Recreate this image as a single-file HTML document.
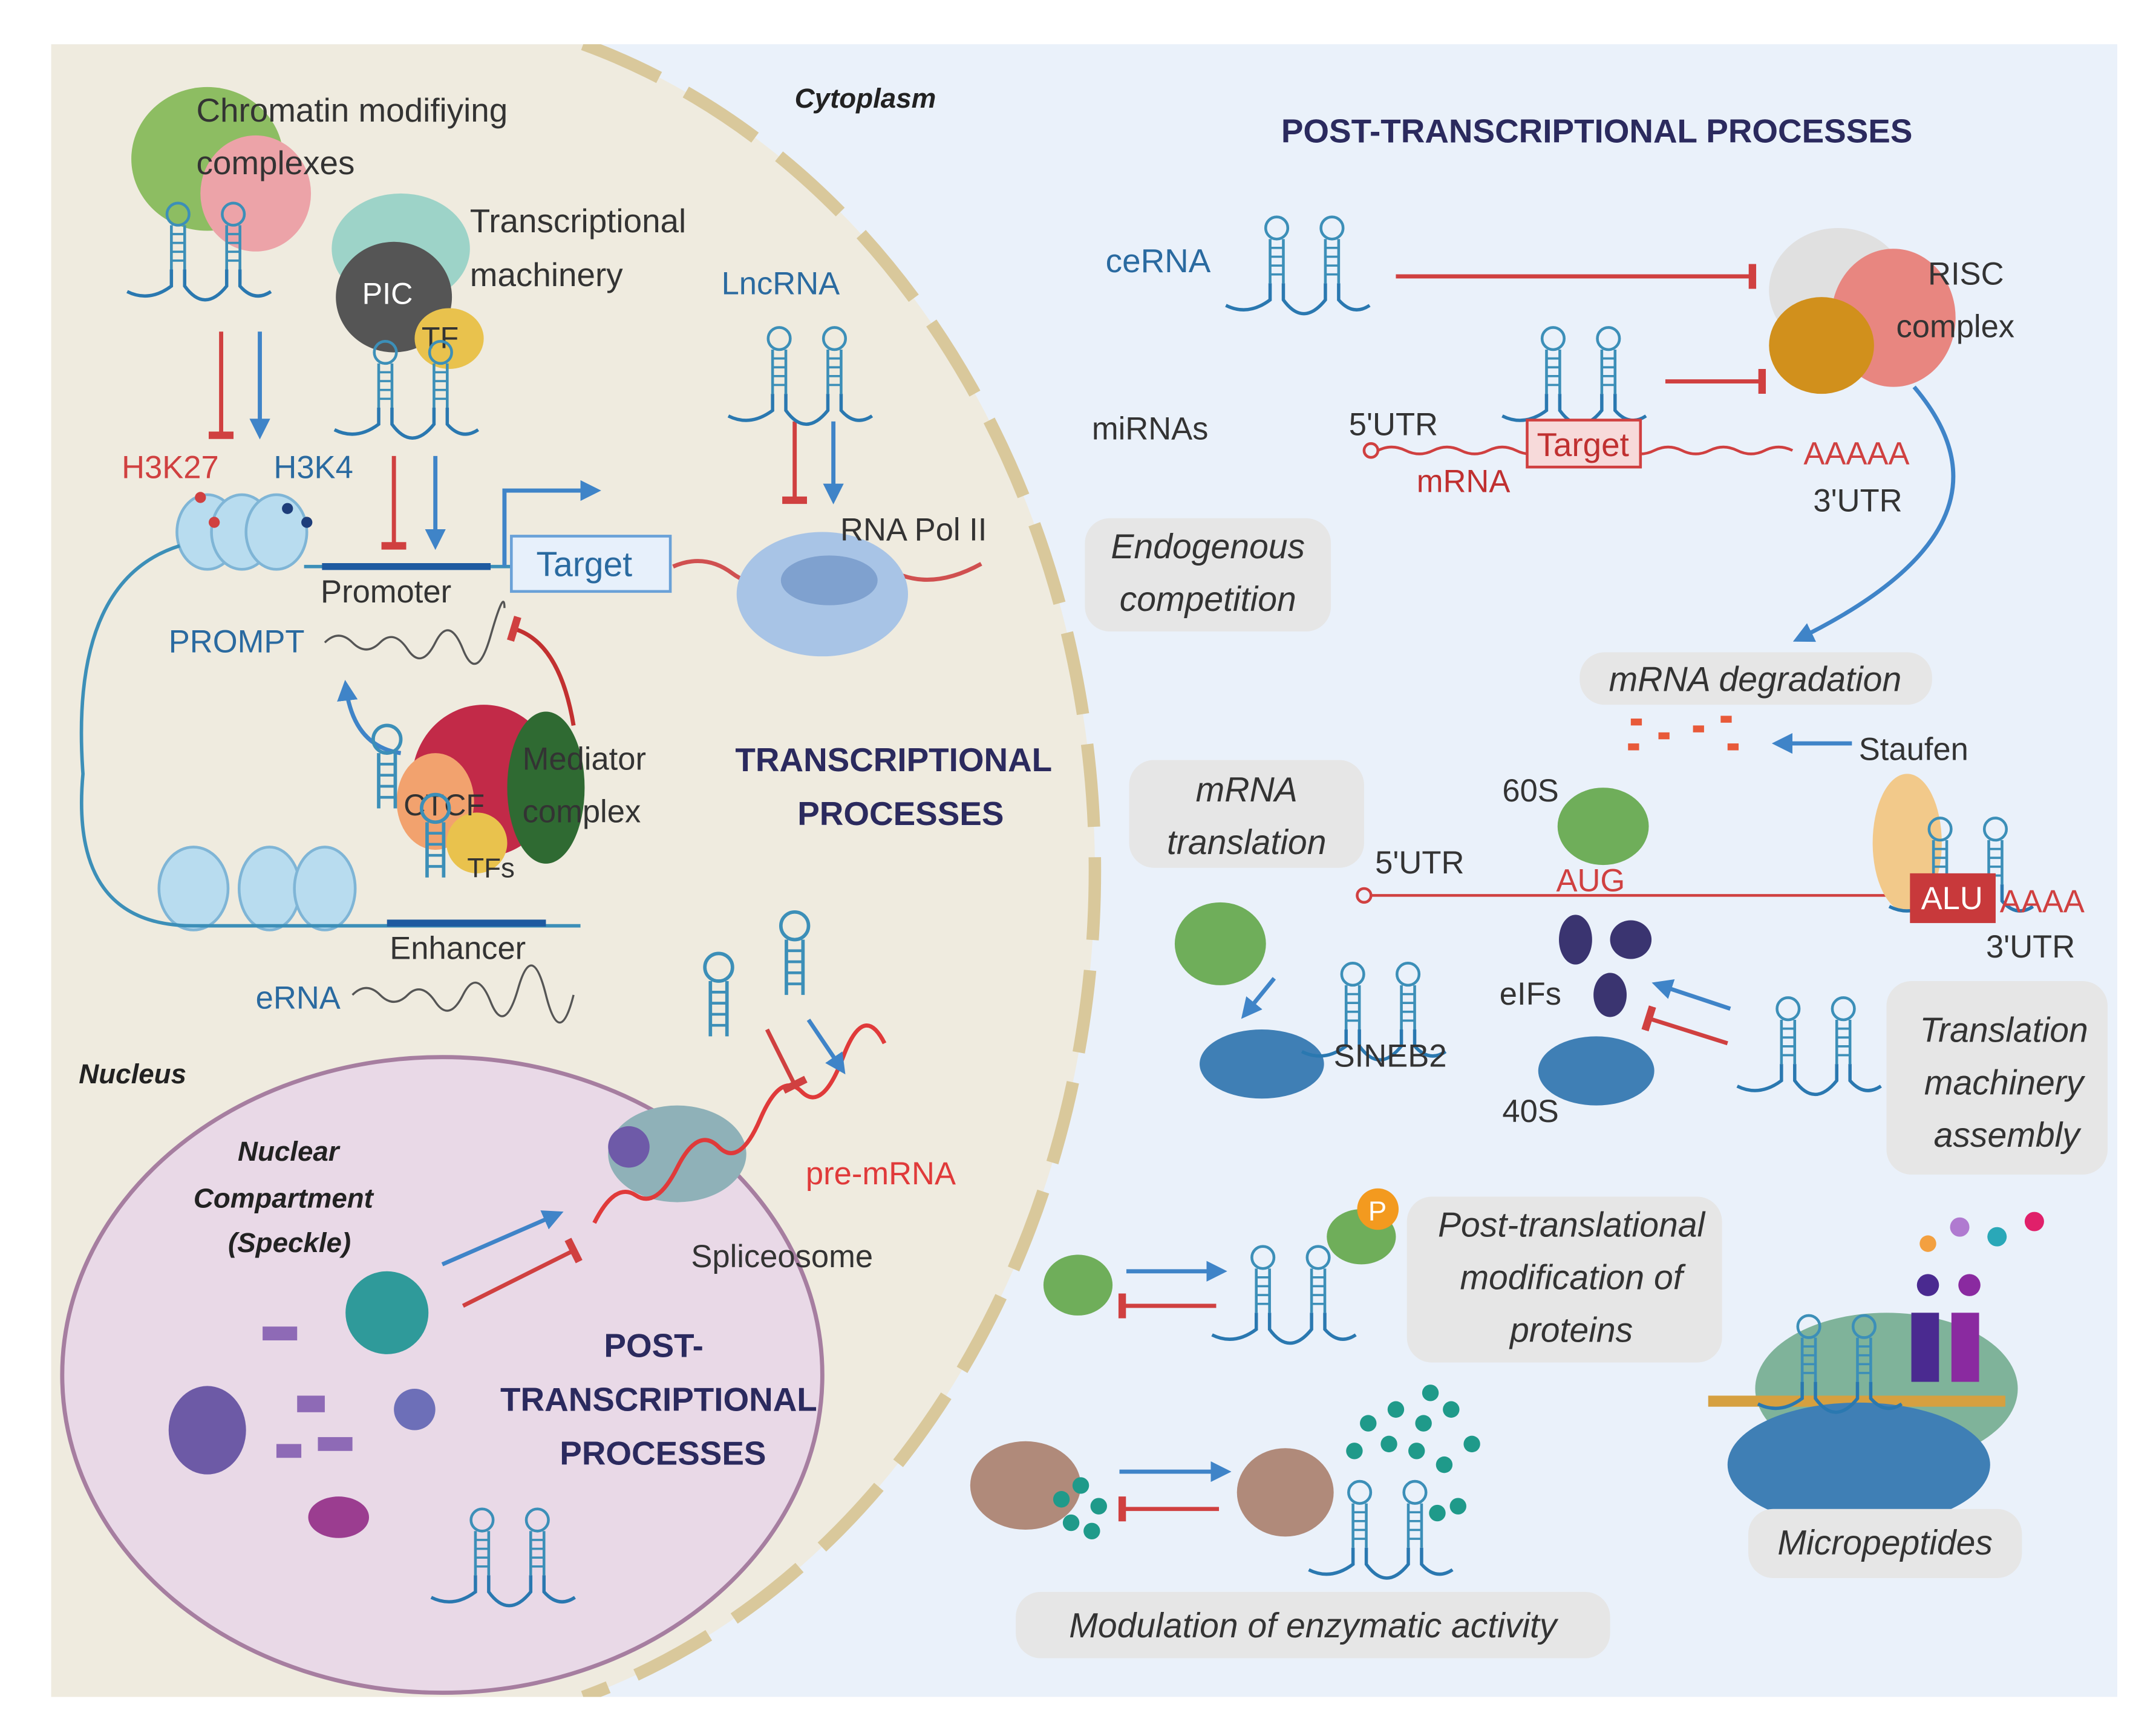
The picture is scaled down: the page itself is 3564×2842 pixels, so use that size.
<!DOCTYPE html>
<html><head><meta charset="utf-8"><style>
html,body{margin:0;padding:0;background:#fff;overflow:hidden;width:3564px;height:2842px}
svg{display:block}
text{font-family:"Liberation Sans",sans-serif}
</style></head><body>
<svg width="3564" height="2842" viewBox="0 0 1560 1244" xmlns="http://www.w3.org/2000/svg">
<defs>
<g id="hp">
 <path d="M-6,0 L-6,-40 M6,0 L6,-40" stroke="#3c8fb8" stroke-width="2.5" fill="none"/>
 <path d="M-6,-8h12M-6,-16h12M-6,-24h12M-6,-32h12" stroke="#3c8fb8" stroke-width="2"/>
 <circle cx="0" cy="-50" r="10" fill="none" stroke="#3c8fb8" stroke-width="2.5"/>
</g>
<g id="rna2s">
 <path d="M-60,20 Q-40,30 -20,15 L-20,0 M-8,0 L-8,15 Q10,40 30,15 L30,0 M42,0 L42,15 Q55,30 70,20" stroke="#2a78b0" stroke-width="3" fill="none"/>
 <use href="#hp" x="-14" y="0"/><use href="#hp" x="36" y="0"/>
</g>
<g id="rna2"><use href="#rna2s" transform="scale(0.8)"/></g>
<marker id="ab" viewBox="0 0 10 10" refX="8" refY="5" markerWidth="5" markerHeight="5" orient="auto"><path d="M0,0L10,5L0,10z" fill="#3f84c8"/></marker>
<marker id="tr" viewBox="0 0 10 10" refX="5" refY="5" markerWidth="6" markerHeight="6" orient="auto"><path d="M5,0V10" stroke="#d04040" stroke-width="3"/></marker>
<clipPath id="pan"><rect x="37" y="32" width="1495" height="1196"/></clipPath>
</defs>
<rect x="37" y="32" width="1495" height="1196" fill="#eaf1fa"/>
<g clip-path="url(#pan)">
<path d="M37,32 H422 A522 625 0 0 1 422 1228 H37 Z" fill="#efebdf"/>
<path d="M422,32 A522 625 0 0 1 422 1228" fill="none" stroke="#d9c89b" stroke-width="9" stroke-dasharray="60,22"/>
<ellipse cx="320" cy="995" rx="275" ry="230" fill="#e9d9e7" stroke="#a67ea0" stroke-width="3"/>
</g>

<ellipse cx="150" cy="115" rx="55" ry="52" fill="#8dbd62"/>
<ellipse cx="185" cy="140" rx="40" ry="42" fill="#eca3a8"/>
<use href="#rna2" x="140" y="195"/>
<text x="142" y="88" font-size="24" fill="#333">Chromatin modifiying</text>
<text x="142" y="126" font-size="24" fill="#333">complexes</text>
<ellipse cx="290" cy="180" rx="50" ry="40" fill="#9dd3c8"/>
<ellipse cx="285" cy="215" rx="42" ry="40" fill="#555"/>
<ellipse cx="325" cy="245" rx="25" ry="22" fill="#e9c24d"/>
<text x="262" y="220" font-size="22" fill="#fff">PIC</text>
<text x="305" y="252" font-size="22" fill="#333">TF</text>
<use href="#rna2" x="290" y="295"/>
<text x="340" y="168" font-size="24" fill="#333">Transcriptional</text>
<text x="340" y="207" font-size="24" fill="#333">machinery</text>
<path d="M160,240V315" stroke="#d04040" stroke-width="3" marker-end="url(#tr)"/>
<path d="M188,240V315" stroke="#3f84c8" stroke-width="3" marker-end="url(#ab)"/>
<path d="M285,330V395" stroke="#d04040" stroke-width="3" marker-end="url(#tr)"/>
<path d="M315,330V395" stroke="#3f84c8" stroke-width="3" marker-end="url(#ab)"/>
<path d="M575,305V362" stroke="#d04040" stroke-width="3" marker-end="url(#tr)"/>
<path d="M603,305V362" stroke="#3f84c8" stroke-width="3" marker-end="url(#ab)"/>
<text x="88" y="346" font-size="23" fill="#d04040">H3K27</text>
<text x="198" y="346" font-size="23" fill="#2a6aa0">H3K4</text>
<g fill="#b8dcef" stroke="#7fb5d6" stroke-width="2">
<ellipse cx="150" cy="385" rx="22" ry="27"/><ellipse cx="175" cy="385" rx="22" ry="27"/><ellipse cx="200" cy="385" rx="22" ry="27"/>
<ellipse cx="140" cy="643" rx="25" ry="30"/><ellipse cx="195" cy="643" rx="22" ry="30"/><ellipse cx="235" cy="643" rx="22" ry="30"/>
</g>
<circle cx="145" cy="360" r="4" fill="#d04040"/><circle cx="155" cy="378" r="4" fill="#d04040"/><circle cx="208" cy="368" r="4" fill="#1d3d7a"/><circle cx="222" cy="378" r="4" fill="#1d3d7a"/>
<path d="M130,395 Q50,420 60,560 Q50,670 140,670 L420,670" stroke="#3c8fb8" stroke-width="2.5" fill="none"/>
<path d="M220,410 L470,410" stroke="#3c8fb8" stroke-width="2.5"/>
<path d="M233,410H355" stroke="#1e5aa0" stroke-width="5"/>
<path d="M280,668H395" stroke="#1e5aa0" stroke-width="5"/>
<path d="M365,410V355H432" stroke="#3f84c8" stroke-width="3" fill="none" marker-end="url(#ab)"/>
<rect x="370" y="388" width="115" height="40" fill="#e7f0fb" stroke="#6aa1d8" stroke-width="2"/>
<text x="388" y="417" font-size="25" fill="#2a6aa0">Target</text>
<path d="M487,410 Q510,400 530,415 T580,410 T640,410 T710,408" stroke="#d05050" stroke-width="3" fill="none"/>
<text x="232" y="436" font-size="23" fill="#333">Promoter</text>
<text x="122" y="472" font-size="23" fill="#2a6aa0">PROMPT</text>
<path d="M235,465 q10,-10 20,0 t20,0 t20,5 t20,-5 t20,5 t20,-10 t10,-20" stroke="#555" stroke-width="1.5" fill="none"/>
<ellipse cx="595" cy="430" rx="62" ry="45" fill="#a8c4e6"/>
<ellipse cx="600" cy="420" rx="35" ry="18" fill="#7fa1cf"/>
<text x="608" y="391" font-size="23" fill="#333">RNA Pol II</text>
<text x="522" y="213" font-size="23" fill="#2a6aa0">LncRNA</text>
<use href="#rna2" x="575" y="285"/>
<ellipse cx="350" cy="565" rx="52" ry="55" fill="#c22a48"/>
<ellipse cx="395" cy="570" rx="28" ry="55" fill="#2f6a32"/>
<ellipse cx="315" cy="580" rx="28" ry="35" fill="#f2a26e"/>
<ellipse cx="345" cy="610" rx="22" ry="22" fill="#e9c24d"/>
<text x="378" y="557" font-size="23" fill="#333">Mediator</text>
<text x="378" y="595" font-size="23" fill="#333">complex</text>
<text x="292" y="590" font-size="22" fill="#333">CTCF</text>
<text x="338" y="635" font-size="20" fill="#333">TFs</text>
<path d="M415,525 Q405,465 372,455" stroke="#c23030" stroke-width="3" fill="none" marker-end="url(#tr)"/>
<path d="M290,545 Q255,540 250,495" stroke="#3f84c8" stroke-width="3" fill="none" marker-end="url(#ab)"/>
<use href="#hp" x="280" y="585"/><use href="#hp" x="315" y="635"/>
<text x="282" y="694" font-size="23" fill="#333">Enhancer</text>
<text x="185" y="730" font-size="23" fill="#2a6aa0">eRNA</text>
<path d="M255,720 q10,-10 20,0 t20,0 t20,5 t20,-5 t20,5 t20,-10 t20,5 t20,0" stroke="#555" stroke-width="1.5" fill="none"/>
<text x="532" y="558" font-size="24" font-weight="bold" fill="#2b2a5e">TRANSCRIPTIONAL</text>
<text x="577" y="597" font-size="24" font-weight="bold" fill="#2b2a5e">PROCESSES</text>
<text x="575" y="78" font-size="20" font-style="italic" font-weight="bold" fill="#222">Cytoplasm</text>
<text x="57" y="784" font-size="20" font-style="italic" font-weight="bold" fill="#222">Nucleus</text>
<ellipse cx="490" cy="835" rx="50" ry="35" fill="#8fb1b8"/>
<ellipse cx="455" cy="830" rx="15" ry="15" fill="#6e5aa8"/>
<path d="M430,885 q15,-30 30,-20 t30,-20 t30,-15 t30,-20 t30,-20 t30,-25 t30,-10" stroke="#e03a3a" stroke-width="3" fill="none"/>
<use href="#hp" x="520" y="750"/><use href="#hp" x="575" y="720"/>
<path d="M555,745L575,785" stroke="#d04040" stroke-width="3" marker-end="url(#tr)"/>
<path d="M585,738L610,775" stroke="#3f84c8" stroke-width="3" marker-end="url(#ab)"/>
<text x="583" y="857" font-size="23" fill="#e03a3a">pre-mRNA</text>
<text x="500" y="917" font-size="23" fill="#333">Spliceosome</text>
<path d="M320,915L405,878" stroke="#3f84c8" stroke-width="3" marker-end="url(#ab)"/>
<path d="M335,945L415,905" stroke="#d04040" stroke-width="3" marker-end="url(#tr)"/>
<text x="172" y="840" font-size="20" font-style="italic" font-weight="bold" fill="#222">Nuclear</text>
<text x="140" y="874" font-size="20" font-style="italic" font-weight="bold" fill="#222">Compartment</text>
<text x="165" y="906" font-size="20" font-style="italic" font-weight="bold" fill="#222">(Speckle)</text>
<text x="437" y="982" font-size="24" font-weight="bold" fill="#2b2a5e">POST-</text>
<text x="362" y="1021" font-size="24" font-weight="bold" fill="#2b2a5e">TRANSCRIPTIONAL</text>
<text x="405" y="1060" font-size="24" font-weight="bold" fill="#2b2a5e">PROCESSES</text>
<ellipse cx="150" cy="1035" rx="28" ry="32" fill="#6d5aa6"/>
<ellipse cx="280" cy="950" rx="30" ry="30" fill="#2f9a9a"/>
<ellipse cx="300" cy="1020" rx="15" ry="15" fill="#6d6fb8"/>
<ellipse cx="245" cy="1098" rx="22" ry="15" fill="#9b3d90"/>
<g fill="#8e6ab6"><rect x="190" y="960" width="25" height="10"/><rect x="215" y="1010" width="20" height="12"/><rect x="230" y="1040" width="25" height="10"/><rect x="200" y="1045" width="18" height="10"/></g>
<use href="#rna2" x="360" y="1140"/>

<text x="927" y="103" font-size="24" font-weight="bold" fill="#2b2a5e">POST-TRANSCRIPTIONAL PROCESSES</text>
<text x="800" y="197" font-size="24" fill="#2a6aa0">ceRNA</text>
<use href="#rna2" x="935" y="205"/>
<path d="M1010,200H1268" stroke="#d04040" stroke-width="3" marker-end="url(#tr)"/>
<ellipse cx="1330" cy="210" rx="50" ry="45" fill="#e0e0e0"/>
<ellipse cx="1370" cy="230" rx="45" ry="50" fill="#e88680"/>
<ellipse cx="1318" cy="250" rx="38" ry="35" fill="#d1901c"/>
<text x="1395" y="206" font-size="23" fill="#333">RISC</text>
<text x="1372" y="244" font-size="23" fill="#333">complex</text>
<text x="790" y="318" font-size="23" fill="#333">miRNAs</text>
<text x="976" y="315" font-size="23" fill="#333">5'UTR</text>
<circle cx="992" cy="326" r="5" fill="none" stroke="#d04040" stroke-width="2"/>
<path d="M997,326 q10,-5 20,0 t20,0 t20,0 t20,0 t20,0 t20,0 t20,0 t20,0 t20,0 t20,0 t20,0 t20,0 t20,0 t20,0 t20,0" stroke="#d04040" stroke-width="2" fill="none"/>
<use href="#rna2" x="1135" y="285"/>
<rect x="1105" y="304" width="82" height="34" fill="#f7dada" stroke="#d04040" stroke-width="2"/>
<text x="1112" y="330" font-size="24" fill="#c03030">Target</text>
<path d="M1205,276H1275" stroke="#d04040" stroke-width="3" marker-end="url(#tr)"/>
<text x="1025" y="356" font-size="23" fill="#c03030">mRNA</text>
<text x="1305" y="336" font-size="23" fill="#d04040">AAAAA</text>
<text x="1312" y="370" font-size="23" fill="#333">3'UTR</text>
<path d="M1385,280 Q1470,380 1300,463" stroke="#3f84c8" stroke-width="3" fill="none" marker-end="url(#ab)"/>
<rect x="785" y="375" width="178" height="82" rx="18" fill="#e6e6e6"/>
<text x="874" y="404" font-size="25" font-style="italic" fill="#333" text-anchor="middle">Endogenous</text>
<text x="874" y="442" font-size="25" font-style="italic" fill="#333" text-anchor="middle">competition</text>
<rect x="1143" y="472" width="255" height="38" rx="18" fill="#e6e6e6"/>
<text x="1270" y="500" font-size="25" font-style="italic" fill="#333" text-anchor="middle">mRNA degradation</text>
<g fill="#e85a3a"><rect x="1180" y="520" width="8" height="5"/><rect x="1200" y="530" width="8" height="5"/><rect x="1225" y="525" width="8" height="5"/><rect x="1245" y="518" width="8" height="5"/><rect x="1250" y="538" width="8" height="5"/><rect x="1178" y="538" width="8" height="5"/></g>
<path d="M1340,538H1285" stroke="#3f84c8" stroke-width="3" marker-end="url(#ab)"/>
<text x="1345" y="550" font-size="23" fill="#333">Staufen</text>
<rect x="817" y="550" width="170" height="78" rx="18" fill="#e6e6e6"/>
<text x="902" y="580" font-size="25" font-style="italic" fill="#333" text-anchor="middle">mRNA</text>
<text x="902" y="618" font-size="25" font-style="italic" fill="#333" text-anchor="middle">translation</text>
<text x="1087" y="580" font-size="23" fill="#333">60S</text>
<ellipse cx="1160" cy="598" rx="33" ry="28" fill="#6fae5a"/>
<text x="995" y="632" font-size="23" fill="#333">5'UTR</text>
<text x="1126" y="645" font-size="23" fill="#d04040">AUG</text>
<circle cx="987" cy="648" r="5" fill="none" stroke="#d04040" stroke-width="2"/>
<path d="M992,648 H1380" stroke="#d04040" stroke-width="2"/>
<ellipse cx="1380" cy="610" rx="25" ry="50" fill="#f2c98a"/>
<use href="#rna2" x="1415" y="640"/>
<rect x="1382" y="632" width="62" height="36" fill="#c8393b"/>
<text x="1390" y="658" font-size="23" fill="#fff">ALU</text>
<text x="1447" y="660" font-size="23" fill="#d04040">AAAA</text>
<text x="1437" y="693" font-size="23" fill="#333">3'UTR</text>
<ellipse cx="883" cy="683" rx="33" ry="30" fill="#6fae5a"/>
<path d="M922,708L900,735" stroke="#3f84c8" stroke-width="3" marker-end="url(#ab)"/>
<ellipse cx="913" cy="770" rx="45" ry="25" fill="#3f7fb5"/>
<use href="#rna2" x="990" y="745"/>
<text x="965" y="772" font-size="23" fill="#333">SINEB2</text>
<g fill="#3a3470"><ellipse cx="1140" cy="680" rx="12" ry="18"/><ellipse cx="1180" cy="680" rx="15" ry="14"/><ellipse cx="1165" cy="720" rx="12" ry="16"/></g>
<text x="1085" y="727" font-size="23" fill="#333">eIFs</text>
<ellipse cx="1155" cy="775" rx="42" ry="25" fill="#3f7fb5"/>
<text x="1087" y="812" font-size="23" fill="#333">40S</text>
<path d="M1252,730L1198,712" stroke="#3f84c8" stroke-width="3" marker-end="url(#ab)"/>
<path d="M1250,755L1193,737" stroke="#d04040" stroke-width="3" marker-end="url(#tr)"/>
<use href="#rna2" x="1305" y="770"/>
<rect x="1365" y="710" width="160" height="140" rx="18" fill="#e6e6e6"/>
<text x="1450" y="754" font-size="25" font-style="italic" fill="#333" text-anchor="middle">Translation</text>
<text x="1450" y="792" font-size="25" font-style="italic" fill="#333" text-anchor="middle">machinery</text>
<text x="1452" y="830" font-size="25" font-style="italic" fill="#333" text-anchor="middle">assembly</text>
<ellipse cx="780" cy="930" rx="25" ry="22" fill="#6fae5a"/>
<path d="M815,920H885" stroke="#3f84c8" stroke-width="3" marker-end="url(#ab)"/>
<path d="M880,945H812" stroke="#d04040" stroke-width="3" marker-end="url(#tr)"/>
<use href="#rna2" x="925" y="950"/>
<ellipse cx="985" cy="895" rx="25" ry="20" fill="#6fae5a"/>
<circle cx="997" cy="875" r="15" fill="#f39a1f"/><text x="990" y="883" font-size="20" fill="#fff">P</text>
<rect x="1018" y="866" width="228" height="120" rx="18" fill="#e6e6e6"/>
<text x="1137" y="895" font-size="25" font-style="italic" fill="#333" text-anchor="middle">Post-translational</text>
<text x="1137" y="933" font-size="25" font-style="italic" fill="#333" text-anchor="middle">modification of</text>
<text x="1137" y="971" font-size="25" font-style="italic" fill="#333" text-anchor="middle">proteins</text>
<ellipse cx="1365" cy="1005" rx="95" ry="55" fill="#7fb39a"/>
<rect x="1236" y="1010" width="215" height="8" fill="#d6a040"/>
<ellipse cx="1345" cy="1060" rx="95" ry="45" fill="#3f7fb5"/>
<rect x="1383" y="950" width="20" height="50" fill="#4a2a90"/><rect x="1412" y="950" width="20" height="50" fill="#8a2aa0"/>
<circle cx="1395" cy="930" r="8" fill="#4a2a90"/><circle cx="1425" cy="930" r="8" fill="#8a2aa0"/>
<circle cx="1395" cy="900" r="6" fill="#f3a040"/><circle cx="1418" cy="888" r="7" fill="#b07ad0"/><circle cx="1445" cy="895" r="7" fill="#2aa8b8"/><circle cx="1472" cy="884" r="7" fill="#e0206a"/>
<use href="#rna2" x="1320" y="1000"/>
<rect x="1265" y="1092" width="198" height="50" rx="18" fill="#e6e6e6"/>
<text x="1364" y="1125" font-size="25" font-style="italic" fill="#333" text-anchor="middle">Micropeptides</text>
<ellipse cx="742" cy="1075" rx="40" ry="32" fill="#b08a7a"/>
<g fill="#1f9a8a"><circle cx="768" cy="1085" r="6"/><circle cx="782" cy="1075" r="6"/><circle cx="795" cy="1090" r="6"/><circle cx="775" cy="1102" r="6"/><circle cx="790" cy="1108" r="6"/></g>
<path d="M810,1065H888" stroke="#3f84c8" stroke-width="3" marker-end="url(#ab)"/>
<path d="M882,1092H812" stroke="#d04040" stroke-width="3" marker-end="url(#tr)"/>
<ellipse cx="930" cy="1080" rx="35" ry="32" fill="#b08a7a"/>
<g fill="#1f9a8a"><circle cx="990" cy="1030" r="6"/><circle cx="1010" cy="1020" r="6"/><circle cx="1030" cy="1030" r="6"/><circle cx="1050" cy="1020" r="6"/><circle cx="1035" cy="1008" r="6"/><circle cx="1065" cy="1045" r="6"/><circle cx="1045" cy="1060" r="6"/><circle cx="1025" cy="1050" r="6"/><circle cx="1005" cy="1045" r="6"/><circle cx="1055" cy="1090" r="6"/><circle cx="1040" cy="1095" r="6"/><circle cx="980" cy="1050" r="6"/></g>
<use href="#rna2" x="995" y="1120"/>
<rect x="735" y="1152" width="430" height="48" rx="18" fill="#e6e6e6"/>
<text x="950" y="1185" font-size="25" font-style="italic" fill="#333" text-anchor="middle">Modulation of enzymatic activity</text>
</svg>
</body></html>
